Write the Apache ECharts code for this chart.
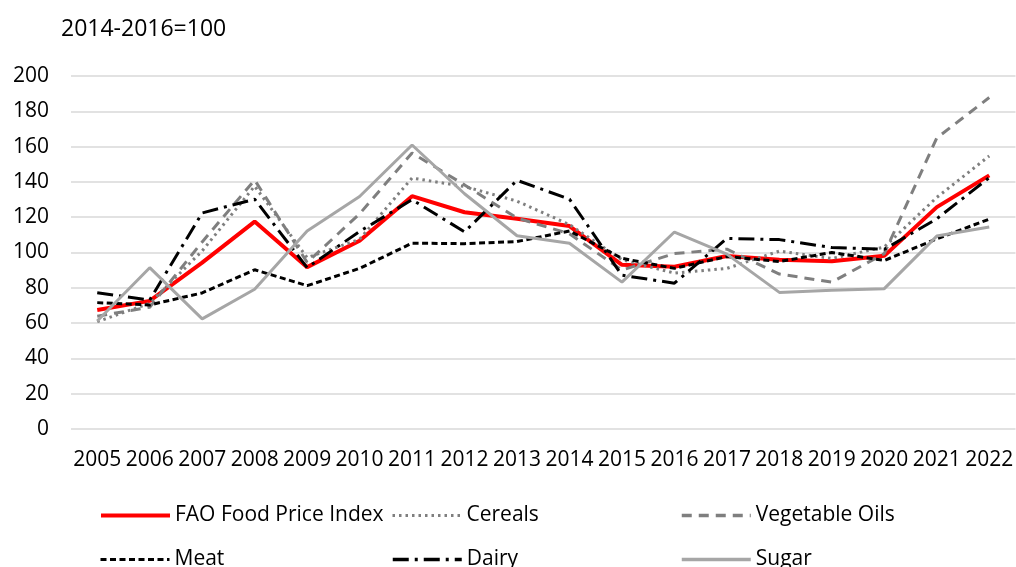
<!DOCTYPE html>
<html>
<head>
<meta charset="utf-8">
<script src="https://cdn.jsdelivr.net/npm/echarts@6/dist/echarts.min.js"></script>
<style>
  html, body { margin: 0; padding: 0; background: #fff; }
  #chart { width: 1016px; height: 567px; }
</style>
</head>
<body>
<div id="chart"></div>
<script>
// data
var years = ['2005', '2006', '2007', '2008', '2009', '2010', '2011', '2012', '2013',
  '2014', '2015', '2016', '2017', '2018', '2019', '2020', '2021', '2022'];
var fao = [67.4, 72.6, 94.3, 117.5, 91.7, 106.7, 131.9, 122.8, 119.1, 115.0, 93.0, 91.9, 98.0, 95.9, 95.1, 98.1, 125.7, 143.7];
var cereals = [60.8, 71.2, 100.9, 137.6, 97.1, 107.5, 142.2, 137.4, 129.1, 115.8, 95.9, 88.3, 91.0, 100.8, 96.6, 103.1, 131.2, 154.7];
var vegOils = [63.9, 69.0, 106.0, 141.1, 94.4, 121.9, 156.4, 138.3, 119.5, 110.6, 90.0, 99.4, 101.9, 87.8, 83.2, 99.4, 164.9, 187.8];
var meat = [71.6, 70.3, 77.1, 90.2, 81.2, 91.0, 105.3, 105.0, 106.2, 112.2, 96.7, 91.0, 97.7, 94.9, 100.0, 95.5, 107.7, 118.9];
var dairy = [77.2, 73.1, 122.4, 130.2, 91.4, 111.9, 129.9, 111.7, 140.9, 130.2, 87.1, 82.6, 108.0, 107.3, 102.8, 101.8, 119.1, 142.4];
var sugar = [61.2, 91.4, 62.4, 79.2, 112.2, 131.7, 160.9, 133.3, 109.5, 105.2, 83.2, 111.6, 99.1, 77.4, 78.6, 79.5, 109.3, 114.5];

var font = 'Open Sans';
var myChart = echarts.init(document.getElementById('chart'));

function line(name, data, color, width, dash) {
  return {
    name: name,
    type: 'line',
    data: data,
    symbol: 'none',
    lineStyle: { color: color, width: width, type: dash, cap: 'butt' },
    itemStyle: { color: color }
  };
}

// one legend per item so the columns line up like the picture
function leg(name, left, top, width) {
  return {
    data: [name],
    left: left,
    top: top,
    itemWidth: 69,
    itemHeight: 14,
    itemGap: 5,
    itemStyle: { opacity: 0 },
    lineStyle: { width: width },
    textStyle: { fontFamily: font, fontSize: 21, color: '#000' }
  };
}

var option = {
  animation: false,
  title: {
    text: '2014-2016=100',
    left: 56,
    top: 13,
    textStyle: { fontFamily: font, fontSize: 23, fontWeight: 'normal', color: '#000' }
  },
  grid: { left: 71, right: -9, top: 76, bottom: 138 },
  legend: [
    leg('FAO Food Price Index', 94, 500, 4),
    leg('Cereals', 386, 500, 3),
    leg('Vegetable Oils', 675, 500, 3.5),
    leg('Meat', 94, 544, 3),
    leg('Dairy', 386, 544, 3.5),
    leg('Sugar', 675, 544, 3.5)
  ],
  xAxis: {
    type: 'category',
    data: years,
    boundaryGap: true,
    axisLine: { show: false },
    axisTick: { show: false },
    axisLabel: { fontFamily: font, fontSize: 21, color: '#000', margin: 21, interval: 0 }
  },
  yAxis: {
    type: 'value',
    min: 0,
    max: 200,
    interval: 20,
    axisLine: { show: false },
    axisTick: { show: false },
    axisLabel: { fontFamily: font, fontSize: 21, color: '#000', margin: 22 },
    splitLine: { lineStyle: { color: '#d9d9d9', width: 1.5 } }
  },
  series: [
    line('FAO Food Price Index', fao, '#ff0000', 4, 'solid'),
    line('Cereals', cereals, '#7f7f7f', 3, [2.5, 4]),
    line('Vegetable Oils', vegOils, '#7f7f7f', 3, [10, 7]),
    line('Meat', meat, '#000000', 3, [6, 3.5]),
    line('Dairy', dairy, '#000000', 3, [16, 6, 3, 6]),
    line('Sugar', sugar, '#a6a6a6', 3, 'solid')
  ]
};

myChart.setOption(option);
</script>
</body>
</html>
